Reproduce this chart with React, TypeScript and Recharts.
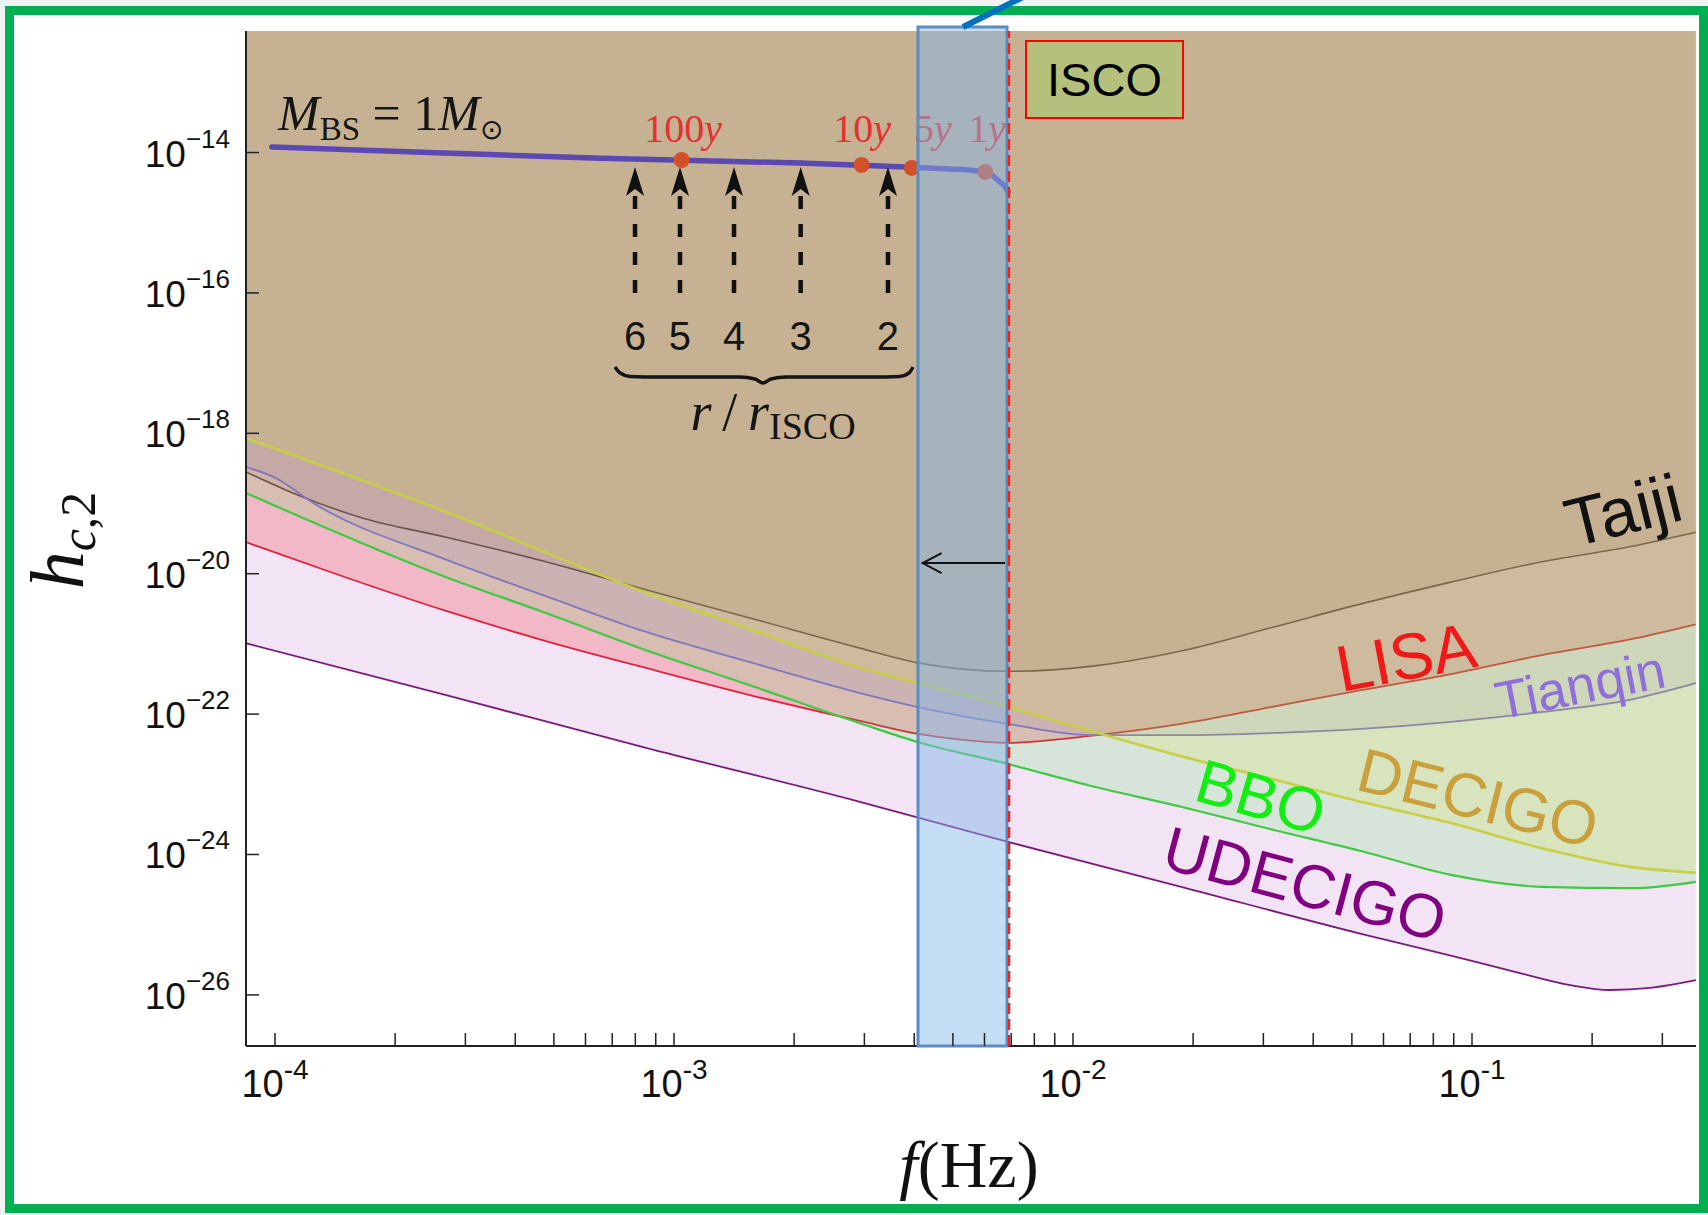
import React from "react";
import {
  ComposedChart,
  Area,
  Line,
  XAxis,
  YAxis,
  ReferenceArea,
  ReferenceLine,
  ReferenceDot,
} from "recharts";

// every value below is log10: x = log10(f / Hz), y = log10(h_c)
const taijiCurve = [
  [-4.073, -18.55], [-3.972, -18.81], [-3.779, -19.21], [-3.571, -19.48], [-3.321, -19.83],
  [-3.07, -20.23], [-2.81, -20.63], [-2.534, -21.06], [-2.388, -21.27], [-2.163, -21.39],
  [-1.957, -21.32], [-1.729, -21.1], [-1.504, -20.77], [-1.278, -20.43], [-1.053, -20.12],
  [-0.825, -19.83], [-0.599, -19.61], [-0.439, -19.41],
];
const lisaCurve = [
  [-4.073, -19.55], [-3.822, -20.054], [-3.571, -20.531], [-3.321, -20.959], [-3.07, -21.343],
  [-2.81, -21.728], [-2.534, -22.098], [-2.388, -22.283], [-2.276, -22.368], [-2.163, -22.41],
  [-1.957, -22.31], [-1.729, -22.14], [-1.504, -21.9], [-1.278, -21.66], [-1.053, -21.43],
  [-0.825, -21.16], [-0.599, -20.93], [-0.439, -20.72],
];
const tianqinCurve = [
  [-4.073, -18.48], [-3.997, -18.64], [-3.905, -18.99], [-3.571, -19.8], [-3.321, -20.32],
  [-3.07, -20.83], [-2.81, -21.26], [-2.534, -21.7], [-2.388, -21.9], [-2.163, -22.14],
  [-1.957, -22.3], [-1.729, -22.3], [-1.504, -22.27], [-1.278, -22.21], [-1.053, -22.11],
  [-0.825, -21.97], [-0.599, -21.79], [-0.439, -21.56],
];
const decigoCurve = [
  [-4.073, -18.07], [-3.571, -19.12], [-3.07, -20.27], [-2.81, -20.79], [-2.534, -21.34],
  [-2.388, -21.56], [-2.163, -21.9], [-1.957, -22.24], [-1.729, -22.6], [-1.504, -22.92],
  [-1.278, -23.25], [-1.053, -23.55], [-0.825, -23.91], [-0.599, -24.18], [-0.439, -24.26],
];
const bboCurve = [
  [-4.073, -18.85], [-3.571, -20.05], [-3.321, -20.56], [-3.07, -21.09], [-2.81, -21.59],
  [-2.534, -22.13], [-2.388, -22.4], [-2.163, -22.71], [-1.957, -23.02], [-1.729, -23.32],
  [-1.504, -23.64], [-1.278, -23.95], [-1.053, -24.29], [-0.825, -24.46], [-0.599, -24.48],
  [-0.439, -24.39],
];
const udecigoCurve = [
  [-4.073, -20.99], [-3.571, -21.73], [-3.07, -22.48], [-2.534, -23.25], [-2.163, -23.82],
  [-1.729, -24.46], [-1.278, -25.13], [-1.053, -25.44], [-0.88, -25.69], [-0.754, -25.86],
  [-0.654, -25.93], [-0.554, -25.9], [-0.439, -25.79],
];
const massCurve = [
  [-4.008, -13.92], [-3.561, -14.01], [-3.185, -14.08], [-2.977, -14.11], [-2.684, -14.15],
  [-2.401, -14.21], [-2.308, -14.235], [-2.246, -14.26], [-2.208, -14.31], [-2.183, -14.42],
  [-2.17, -14.49], [-2.163, -14.56],
];
const braceCurve = [
  [-3.148, -17.056], [-3.135, -17.141], [-3.11, -17.191], [-3.073, -17.198], [-2.835, -17.198],
  [-2.797, -17.226], [-2.777, -17.284], [-2.757, -17.226], [-2.719, -17.198], [-2.471, -17.198],
  [-2.434, -17.191], [-2.411, -17.141], [-2.401, -17.056],
];

const detectorNames = ["Taiji", "LISA", "Tianqin", "DECIGO", "BBO", "UDECIGO"];
const detectorCurves = [taijiCurve, lisaCurve, tianqinCurve, decigoCurve, bboCurve, udecigoCurve];
const nameF = [-0.6216, -1.1654, -0.7293, -0.985, -1.529, -1.4185];
const nameH = [-19.093, -21.187, -21.585, -23.195, -23.18, -24.42];

// inspiral time marks on the M_BS = 1 M_sun track
const yearLabels = ["100", "10", "5", "1"];
const yearDotF = [-2.981, -2.53, -2.404, -2.22];
const yearDotH = [-14.107, -14.178, -14.22, -14.278];
const yearTextF = [-2.9774, -2.5288, -2.3509, -2.2155];
const yearTextH = -13.85;

// r / r_ISCO arrows
const radiusLabels = ["6", "5", "4", "3", "2"];
const arrowF = [-3.0977, -2.985, -2.8496, -2.6825, -2.4637];
const arrowTipH = -14.207;
const arrowShaftTopH = -14.52;
const arrowBaseH = -16.0;
const radiusTextH = -16.614;

const iscoF = -2.1604;
const bandF = [-2.3885, -2.1654];

const xMajor = [-4, -3, -2, -1];
const xMinorMult = [2, 3, 4, 5, 6, 7, 8, 9];
const yTicks = [-26, -24, -22, -20, -18, -16, -14];

const X_MIN = -4.0727;
const X_MAX = -0.4386;
const Y_MIN = -26.728;
const Y_MAX = -12.269;

const xTicks = xMajor
  .flatMap((n) => [n, ...xMinorMult.map((k) => n + Math.log10(k))])
  .filter((v) => v <= X_MAX);

const SANS = '"Liberation Sans", Arial, Helvetica, sans-serif';
const SERIF = '"Liberation Serif", "Times New Roman", Times, serif';

const detectorStyles = [
  { stroke: "#4a4a4a", sw: 1.6, fill: "rgb(110,80,50)", alpha: 0.1, text: "#111111", size: 68, angle: -14 },
  { stroke: "#e8202a", sw: 1.8, fill: "#ff0000", alpha: 0.2, text: "#f01818", size: 65, angle: -10.6 },
  { stroke: "#8f6fd8", sw: 1.8, fill: "#9370db", alpha: 0.13, text: "#8f6fd8", size: 53, angle: -11 },
  { stroke: "#ece43a", sw: 2.6, fill: "#ffff00", alpha: 0.14, text: "#c9a03c", size: 62, angle: 14 },
  { stroke: "#30e030", sw: 2.2, fill: "#00ff00", alpha: 0.12, text: "#12ee12", size: 62, angle: 16 },
  { stroke: "#7a1a7a", sw: 1.8, fill: "rgb(160,64,176)", alpha: 0.14, text: "#800080", size: 62, angle: 15 },
];

const toPts = (arr: number[][]) => arr.map(([x, y]) => ({ x, y }));

function XTick(props: any) {
  const { x, y, payload } = props;
  const v = payload.value;
  const major = Math.abs(v - Math.round(v)) < 1e-6;
  return (
    <g>
      <line x1={x} x2={x} y1={y} y2={y - 13} stroke="#222" strokeWidth={1.5} />
      {major && (
        <text x={x} y={y + 51} textAnchor="middle" fontFamily={SANS} fontSize={38} fill="#111">
          10
          <tspan fontSize={28} dy={-18}>{`-${Math.abs(Math.round(v))}`}</tspan>
        </text>
      )}
    </g>
  );
}

function YTick(props: any) {
  const { x, y, payload } = props;
  const v = payload.value;
  return (
    <g>
      <line x1={x} x2={x + 13} y1={y} y2={y} stroke="#222" strokeWidth={1.5} />
      <text x={x - 16} y={y + 14} textAnchor="end" fontFamily={SANS} fontSize={37} fill="#111">
        10
        <tspan fontSize={26} dy={-19}>{`\u2212${Math.abs(v)}`}</tspan>
      </text>
    </g>
  );
}

const yTitle = (p: any) => {
  const vb = p.viewBox || { x: 46, y: 31, width: 200, height: 1015 };
  const cx = vb.x + 37;
  const cy = vb.y + vb.height / 2 + 2;
  return (
    <text
      x={cx}
      y={cy}
      transform={`rotate(-90 ${cx} ${cy})`}
      textAnchor="middle"
      fontFamily={SERIF}
      fontSize={76}
      fill="#111"
    >
      <tspan fontStyle="italic">h</tspan>
      <tspan fontSize={50} dy={12} fontStyle="italic">c</tspan>
      <tspan fontSize={50}>,2</tspan>
    </text>
  );
};

const xTitle = (p: any) => {
  const vb = p.viewBox || { x: 246, y: 1046, width: 1450, height: 150 };
  return (
    <text
      x={vb.x + vb.width / 2 - 2}
      y={vb.y + 141}
      textAnchor="middle"
      fontFamily={SERIF}
      fontSize={66}
      fill="#111"
    >
      <tspan fontStyle="italic">f</tspan>(Hz)
    </text>
  );
};

export default function App() {
  return (
    <div style={{ position: "relative", width: 1708, height: 1215, overflow: "hidden", background: "#f2f2f2" }}>
      <style>{"html,body{margin:0;padding:0;overflow:hidden}"}</style>
      <div
        style={{
          position: "absolute",
          left: 5,
          top: 6,
          width: 1703,
          height: 1207,
          boxSizing: "border-box",
          border: "9px solid #00b050",
          background: "#fff",
        }}
      />
      <div style={{ position: "absolute", left: 0, top: 0 }}>
        <ComposedChart width={1708} height={1215} margin={{ top: 31, right: 12, bottom: 19, left: 46 }}>
          <XAxis
            dataKey="x"
            type="number"
            domain={[X_MIN, X_MAX]}
            allowDataOverflow
            ticks={xTicks}
            interval={0}
            tick={(p: any) => <XTick {...p} />}
            tickLine={false}
            tickSize={0}
            tickMargin={0}
            axisLine={{ stroke: "#222", strokeWidth: 2 }}
            height={150}
            label={xTitle}
          />
          <XAxis
            xAxisId="top"
            orientation="top"
            dataKey="x"
            type="number"
            domain={[X_MIN, X_MAX]}
            allowDataOverflow
            tick={false}
            tickLine={false}
            axisLine={{ stroke: "#222", strokeWidth: 2 }}
            height={0}
          />
          <YAxis
            type="number"
            domain={[Y_MIN, Y_MAX]}
            allowDataOverflow
            ticks={yTicks}
            interval={0}
            tick={(p: any) => <YTick {...p} />}
            tickLine={false}
            tickSize={0}
            tickMargin={0}
            axisLine={{ stroke: "#222", strokeWidth: 2 }}
            width={200}
            label={yTitle}
          />
          <YAxis
            yAxisId="right"
            orientation="right"
            type="number"
            domain={[Y_MIN, Y_MAX]}
            allowDataOverflow
            tick={false}
            tickLine={false}
            axisLine={{ stroke: "#222", strokeWidth: 2 }}
            width={0}
          />

          {detectorCurves.map((curve, i) => {
            const s = detectorStyles[i];
            return (
              <Area
                key={detectorNames[i]}
                data={toPts(curve)}
                dataKey="y"
                type="monotone"
                baseValue="dataMax"
                fill={s.fill}
                fillOpacity={s.alpha}
                stroke={s.stroke}
                strokeWidth={s.sw}
                dot={false}
                activeDot={false}
                isAnimationActive={false}
                zIndex={100}
              />
            );
          })}

          <Line
            data={toPts(massCurve)}
            dataKey="y"
            type="monotone"
            stroke="#5b48b2"
            strokeWidth={5.5}
            strokeLinecap="round"
            dot={false}
            activeDot={false}
            isAnimationActive={false}
            zIndex={400}
          />
          <Line
            data={toPts(braceCurve)}
            dataKey="y"
            type="monotone"
            stroke="#151515"
            strokeWidth={3.5}
            dot={false}
            activeDot={false}
            isAnimationActive={false}
            zIndex={400}
          />

          {arrowF.map((f) => (
            <ReferenceLine
              key={`shaft-${f}`}
              segment={[{ x: f, y: arrowBaseH }, { x: f, y: arrowShaftTopH }]}
              stroke="#111"
              strokeWidth={4.5}
              strokeDasharray="13 15"
              zIndex={410}
            />
          ))}
          {arrowF.map((f) => (
            <ReferenceDot
              key={`head-${f}`}
              x={f}
              y={arrowTipH}
              r={1}
              zIndex={420}
              shape={(p: any) => (
                <path
                  d={`M${p.cx},${p.cy} L${p.cx - 9},${p.cy + 29} L${p.cx},${p.cy + 22} L${p.cx + 9},${p.cy + 29} Z`}
                  fill="#111"
                />
              )}
            />
          ))}
          {radiusLabels.map((t, i) => (
            <ReferenceDot
              key={`rl-${t}`}
              x={arrowF[i]}
              y={radiusTextH}
              r={1}
              zIndex={440}
              shape={(p: any) => (
                <text x={p.cx} y={p.cy + 14} textAnchor="middle" fontFamily={SANS} fontSize={40} fill="#151515">
                  {t}
                </text>
              )}
            />
          ))}
          <ReferenceDot
            x={-2.7519}
            y={-17.953}
            r={1}
            zIndex={440}
            shape={(p: any) => (
              <text x={p.cx} y={p.cy} textAnchor="middle" fontFamily={SERIF} fontSize={54} fill="#151515">
                <tspan fontStyle="italic">r</tspan>
                {"\u2009/\u2009"}
                <tspan fontStyle="italic">r</tspan>
                <tspan fontSize={38} dy={9}>ISCO</tspan>
              </text>
            )}
          />
          <ReferenceDot
            x={-3.9925}
            y={-13.679}
            r={1}
            zIndex={440}
            shape={(p: any) => (
              <text x={p.cx} y={p.cy} fontFamily={SERIF} fontSize={50} fill="#151515">
                <tspan fontStyle="italic">M</tspan>
                <tspan fontSize={33} dy={10}>BS</tspan>
                <tspan dy={-10}>{" = 1"}</tspan>
                <tspan fontStyle="italic">M</tspan>
                <tspan fontSize={28} dy={9}>{"\u2299"}</tspan>
              </text>
            )}
          />

          {yearLabels.map((t, i) => (
            <ReferenceDot
              key={`yd-${t}`}
              x={yearDotF[i]}
              y={yearDotH[i]}
              r={8}
              fill="#d4502a"
              stroke="none"
              zIndex={430}
            />
          ))}
          {yearLabels.map((t, i) => (
            <ReferenceDot
              key={`yt-${t}`}
              x={yearTextF[i]}
              y={yearTextH}
              r={1}
              zIndex={440}
              shape={(p: any) => (
                <text x={p.cx} y={p.cy} textAnchor="middle" fontFamily={SERIF} fontSize={40} fill="#e53030">
                  {t}
                  <tspan fontStyle="italic">y</tspan>
                </text>
              )}
            />
          ))}

          {detectorNames.map((name, i) => {
            const s = detectorStyles[i];
            return (
              <ReferenceDot
                key={`name-${name}`}
                x={nameF[i]}
                y={nameH[i]}
                r={1}
                zIndex={440}
                shape={(p: any) => (
                  <text
                    x={p.cx}
                    y={p.cy}
                    transform={`rotate(${s.angle} ${p.cx} ${p.cy})`}
                    textAnchor="middle"
                    dominantBaseline="central"
                    fontFamily={SANS}
                    fontSize={s.size}
                    fill={s.text}
                  >
                    {name}
                  </text>
                )}
              />
            );
          })}

          <ReferenceArea
            x1={bandF[0]}
            x2={bandF[1]}
            y1={Y_MIN}
            y2={-12.212}
            fill="rgb(134,182,234)"
            fillOpacity={0.48}
            stroke="#5a8cc0"
            strokeWidth={3}
            ifOverflow="visible"
            zIndex={800}
          />
          <ReferenceLine
            x={iscoF}
            stroke="#ff1a1a"
            strokeWidth={2.5}
            strokeDasharray="11 5"
            zIndex={810}
          />
          <ReferenceLine
            segment={[{ x: -2.1704, y: -19.848 }, { x: -2.3769, y: -19.848 }]}
            stroke="#111"
            strokeWidth={2}
            zIndex={820}
          />
          <ReferenceDot
            x={-2.3769}
            y={-19.848}
            r={1}
            zIndex={820}
            shape={(p: any) => (
              <path
                d={`M${p.cx + 19},${p.cy - 10} L${p.cx},${p.cy} L${p.cx + 19},${p.cy + 10}`}
                fill="none"
                stroke="#111"
                strokeWidth={2}
              />
            )}
          />
          <ReferenceArea
            x1={-2.1178}
            x2={-1.7243}
            y1={-13.509}
            y2={-12.412}
            fill="#b4c07b"
            fillOpacity={1}
            stroke="#ff0000"
            strokeWidth={2}
            zIndex={820}
            label={{ value: "ISCO", position: "center", fill: "#000", fontSize: 47, fontFamily: SANS }}
          />
          <ReferenceLine
            segment={[{ x: -2.2757, y: -12.212 }, { x: -2.0902, y: -11.685 }]}
            stroke="#0070c0"
            strokeWidth={6}
            ifOverflow="visible"
            zIndex={830}
          />
        </ComposedChart>
      </div>
    </div>
  );
}
